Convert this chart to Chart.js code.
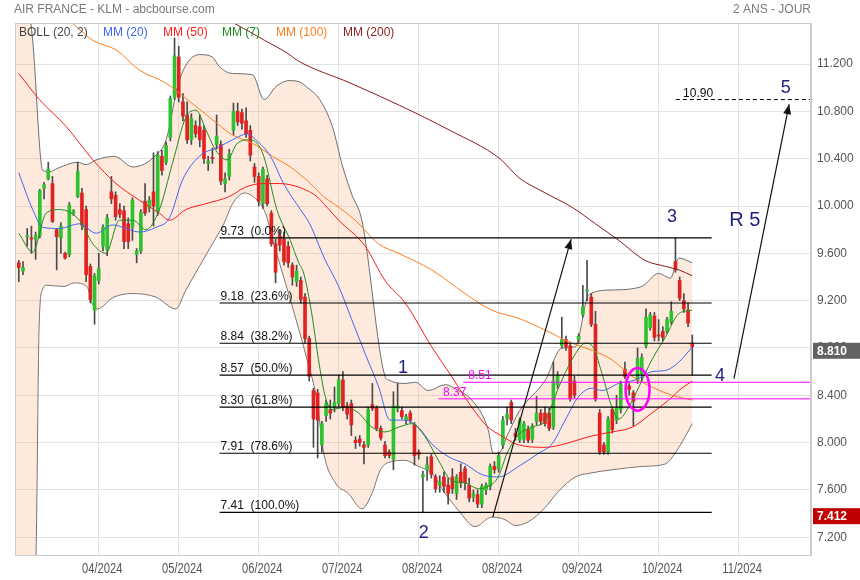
<!DOCTYPE html>
<html><head><meta charset="utf-8">
<script src="https://cdn.jsdelivr.net/npm/chart.js@4.4.0/dist/chart.umd.min.js"></script>
<style>html,body{margin:0;padding:0;background:#fff;}canvas{display:block;}</style>
</head><body>
<canvas id="c" width="860" height="580"></canvas>
<script>
// ---------- DATA ----------
const opens  = [9.52,9.45,9.74,9.73,9.72,9.75,10.15,10.23,10.19,9.80,9.73,9.60,9.59,9.94,10.08,10.11,9.97,9.49,9.12,9.37,9.66,9.63,10.12,10.09,9.97,9.96,9.85,9.82,9.59,9.62,10.04,9.98,10.12,9.95,10.42,10.37,10.58,10.92,11.26,10.88,10.77,10.56,10.68,10.67,10.64,10.36,10.41,10.52,10.52,10.19,10.25,10.64,10.80,10.79,10.72,10.64,10.33,10.25,10.02,10.23,9.94,9.68,9.75,9.72,9.66,9.50,9.36,9.37,9.23,8.88,8.44,8.42,7.98,8.23,8.28,8.30,8.33,8.53,8.31,8.33,8.02,8.03,7.98,7.98,8.32,8.29,8.12,7.98,7.92,7.86,8.29,8.27,8.19,8.25,8.15,7.92,7.71,7.77,7.88,7.71,7.64,7.71,7.64,7.71,7.57,7.75,7.78,7.64,7.54,7.56,7.48,7.60,7.63,7.80,7.78,7.98,8.20,8.34,8.08,8.02,8.03,8.11,8.03,8.18,8.25,8.25,8.25,8.13,8.49,8.82,8.87,8.82,8.52,8.87,9.08,9.28,9.23,9.00,8.25,7.98,7.92,8.28,8.19,8.28,8.62,8.48,8.42,8.53,8.58,8.82,8.97,9.07,8.91,8.94,8.94,9.02,9.53,9.37,9.20,9.12,8.84];
const highs  = [9.54,9.53,9.81,9.83,9.78,10.14,10.20,10.37,10.25,9.81,9.86,9.61,10.03,9.97,10.37,10.15,10.00,9.51,9.43,9.60,9.84,9.93,10.25,10.12,10.02,10.00,9.90,10.07,9.64,9.97,10.19,10.08,10.45,10.46,10.47,10.54,10.93,11.42,11.35,10.95,10.88,10.78,10.72,10.77,10.68,10.42,10.49,10.77,10.55,10.28,10.48,10.87,10.87,10.82,10.83,10.68,10.36,10.28,10.33,10.26,9.96,9.72,9.80,9.78,9.70,9.52,9.50,9.40,9.26,8.90,8.46,8.45,8.18,8.36,8.36,8.47,8.57,8.60,8.34,8.36,8.05,8.06,8.01,8.30,8.50,8.31,8.14,8.01,7.94,8.43,8.50,8.30,8.24,8.27,8.17,7.94,7.76,7.88,7.90,7.73,7.72,7.75,7.70,7.78,7.73,7.82,7.80,7.70,7.60,7.60,7.65,7.66,7.82,7.84,7.92,8.22,8.30,8.36,8.12,8.21,8.18,8.14,8.16,8.39,8.28,8.30,8.29,8.68,8.60,9.06,8.90,8.85,8.56,8.92,9.33,9.54,9.26,9.11,8.28,8.00,8.22,8.30,8.40,8.52,8.68,8.50,8.44,8.80,8.75,9.13,9.10,9.10,9.04,8.98,9.06,9.19,9.73,9.40,9.26,9.18,8.91];
const lows   = [9.36,9.42,9.66,9.60,9.55,9.73,10.06,10.22,9.86,9.46,9.60,9.55,9.57,9.92,10.07,9.80,9.36,9.18,9.00,9.34,9.62,9.58,10.02,9.88,9.90,9.64,9.64,9.71,9.52,9.60,9.92,9.95,9.83,9.92,10.26,10.35,10.55,10.90,10.88,10.72,10.53,10.52,10.58,10.50,10.36,10.30,10.36,10.48,10.18,10.12,10.22,10.60,10.68,10.65,10.58,10.38,10.20,10.00,9.98,10.00,9.66,9.35,9.62,9.50,9.48,9.33,9.32,9.18,8.84,8.52,7.96,7.87,7.92,8.18,8.20,8.26,8.30,8.27,8.20,8.06,7.95,7.97,7.82,7.96,8.27,8.10,8.02,7.87,7.87,7.77,8.26,8.20,8.16,8.17,7.81,7.86,7.412,7.68,7.70,7.58,7.58,7.58,7.48,7.57,7.52,7.62,7.60,7.50,7.50,7.45,7.45,7.56,7.60,7.74,7.75,7.95,8.15,8.16,8.02,8.00,8.00,8.00,8.00,8.15,8.15,8.14,8.10,8.11,8.46,8.80,8.78,8.35,8.38,8.85,9.06,9.20,8.98,8.35,7.90,7.90,7.90,8.08,8.16,8.25,8.54,8.40,8.14,8.50,8.52,8.80,8.95,8.86,8.86,8.86,8.92,9.00,9.44,9.20,9.10,8.98,8.57];
const closes = [9.48,9.48,9.75,9.72,9.75,10.13,10.18,10.31,9.87,9.74,9.83,9.56,10.01,9.96,10.29,9.84,9.42,9.21,9.41,9.47,9.82,9.90,10.06,9.91,9.93,9.70,9.70,10.05,9.62,9.95,9.94,10.05,10.00,10.43,10.30,10.51,10.91,11.27,10.92,10.76,10.56,10.74,10.61,10.56,10.40,10.38,10.40,10.59,10.21,10.23,10.44,10.80,10.71,10.70,10.61,10.43,10.25,10.04,10.31,10.02,9.68,9.44,9.67,9.53,9.52,9.40,9.45,9.21,8.88,8.56,8.20,8.19,8.16,8.33,8.25,8.34,8.53,8.30,8.24,8.15,8.00,8.00,7.96,8.28,8.29,8.12,8.04,7.89,7.89,8.31,8.31,8.22,8.22,8.19,7.89,7.90,7.73,7.81,7.73,7.61,7.67,7.63,7.57,7.61,7.71,7.66,7.66,7.53,7.57,7.48,7.63,7.64,7.80,7.77,7.89,8.19,8.24,8.19,8.05,8.19,8.16,8.02,8.14,8.25,8.18,8.16,8.12,8.52,8.57,8.87,8.81,8.37,8.40,8.90,9.15,9.29,9.00,8.37,7.92,7.92,8.20,8.11,8.30,8.49,8.56,8.45,8.35,8.71,8.72,9.06,9.08,8.89,8.90,8.89,9.04,9.11,9.46,9.22,9.13,9.01,8.81];

// indicator curves: [bar index, value]
const bollUpper = [[-0.9,12.6],[3.3,11.40],[5.7,10.30],[7.3,10.29],[9.3,10.32],[14.0,10.37],[16.0,10.35],[18.4,10.39],[22.7,10.42],[27.1,10.33],[32.6,10.43],[35.0,10.56],[38.1,11.06],[42.9,11.28],[46.0,11.26],[47.6,11.18],[50.8,11.12],[55.5,11.11],[58.3,10.90],[61.1,11.01],[64.2,11.06],[66.6,11.05],[68.6,11.00],[71.5,10.90],[74.6,10.66],[76.8,10.35],[79.2,10.09],[81.5,9.88],[87.0,8.56],[87.8,8.53],[91.8,8.50],[94.2,8.51],[97.3,8.44],[101.3,8.49],[104.4,8.44],[107.6,8.36],[111.5,8.11],[112.7,7.91],[113.9,7.91],[116.3,8.08],[118.8,8.26],[125.1,8.53],[129.0,8.80],[132.2,8.81],[135.4,9.25],[140.9,9.29],[148.0,9.32],[152.0,9.43],[154.8,9.39],[156.8,9.56],[160,9.52]];
const bollLower = [[-0.9,6.9],[4.0,7.0],[4.8,8.95],[5.6,9.29],[6.7,9.33],[10.7,9.32],[13.1,9.35],[16.2,9.32],[17.4,9.18],[18.6,9.13],[22.6,9.23],[27.1,9.26],[32.6,9.23],[37.3,9.13],[39.7,9.29],[42.9,9.49],[46.0,9.68],[48.7,9.85],[50.8,10.02],[53.6,10.11],[56.6,10.05],[58.6,9.94],[60.6,9.68],[64.5,9.21],[68.5,8.70],[70.8,8.36],[72.4,7.92],[75.2,7.66],[78.3,7.57],[81.5,7.44],[83.9,7.57],[85.9,7.77],[88.6,7.84],[91.8,7.85],[94.9,7.80],[98.1,7.74],[101.3,7.57],[104.4,7.43],[108.4,7.29],[112.3,7.37],[115.5,7.35],[117.9,7.30],[121,7.33],[125,7.45],[128,7.58],[132.2,7.71],[135.4,7.74],[140.9,7.77],[148.8,7.80],[153.6,7.82],[156.8,7.96],[160,8.16]];
const mm20 = [[0,10.28],[3.3,9.97],[5.7,9.82],[9.7,9.81],[14.4,9.85],[18.4,9.77],[22.3,9.84],[25.5,9.81],[28.6,9.78],[32.6,9.82],[35.8,9.90],[38.9,10.22],[42.9,10.42],[47.6,10.50],[50.8,10.56],[54.3,10.61],[56.3,10.56],[59.8,10.42],[62.9,10.19],[66.9,9.97],[69.1,9.85],[72.7,9.55],[76.0,9.32],[79.1,9.04],[82.3,8.75],[85.5,8.47],[88.2,8.19],[91.8,8.19],[94.9,8.13],[98.1,7.99],[102.1,7.88],[106.0,7.82],[110.0,7.73],[113.9,7.71],[118.8,7.80],[123.5,7.91],[126.7,7.99],[129.8,8.19],[133.0,8.39],[136.2,8.46],[138.5,8.44],[142.5,8.50],[146.5,8.53],[150.4,8.60],[153.6,8.61],[156.8,8.68],[160,8.81]];
const mm50 = [[0,11.12],[4.9,10.90],[11.3,10.67],[17.6,10.39],[23.1,10.19],[28.6,10.05],[33.4,9.94],[35.8,9.88],[39.7,9.97],[44.5,10.02],[50.0,10.08],[53.9,10.16],[57.9,10.19],[61.8,10.19],[64.5,10.18],[68.5,10.13],[70.8,10.08],[73.2,9.99],[76.0,9.88],[82.3,9.66],[87.0,9.37],[91.8,9.18],[98.1,8.81],[102.8,8.56],[107.6,8.30],[111.2,8.14],[115,8.05],[118.8,7.98],[125.1,7.96],[129.8,7.99],[135.4,8.05],[140.9,8.09],[145.7,8.13],[150.4,8.25],[154.4,8.36],[157.5,8.46],[160,8.52]];
const mm7 = [[0,9.77],[3.3,9.61],[6.5,9.94],[9.7,9.97],[14.4,9.88],[17.6,9.68],[20.7,9.60],[23.9,9.88],[27.1,9.88],[30.2,9.80],[33.4,9.97],[36.5,10.36],[39.7,10.75],[42.1,10.81],[44.5,10.64],[46.8,10.47],[49.5,10.39],[51.9,10.53],[55.0,10.56],[56.6,10.53],[58.2,10.42],[61.3,9.97],[64.5,9.71],[66.5,9.52],[67.7,9.43],[69.6,9.09],[71.2,8.70],[72.8,8.39],[74.4,8.28],[77.6,8.30],[80.7,8.25],[83.9,8.13],[87.0,8.09],[90.2,8.13],[93.4,8.16],[96.5,8.05],[99.7,7.85],[102.8,7.68],[106.0,7.66],[109.2,7.61],[111.5,7.63],[113.9,7.71],[116.0,7.91],[118.8,8.07],[121.9,8.13],[125.1,8.19],[128.3,8.47],[131.4,8.70],[134.6,8.84],[136.2,8.82],[138.5,8.59],[140.9,8.30],[142.5,8.20],[144.9,8.30],[147.3,8.47],[150.4,8.70],[153.6,8.89],[156.8,9.09],[160,9.12]];
const mm100 = [[0,11.90],[12.6,11.55],[17.6,11.40],[23.1,11.32],[28.6,11.15],[34.9,11.04],[39.7,10.91],[46.0,10.73],[50.8,10.60],[55.5,10.53],[60.3,10.42],[64.5,10.33],[69.3,10.19],[72.4,10.08],[74.8,10.02],[79.9,9.88],[85.5,9.68],[90.2,9.60],[98.1,9.46],[106.0,9.26],[112.3,9.12],[118.8,9.05],[125.1,8.95],[131.4,8.84],[136.2,8.78],[140.9,8.70],[145.7,8.56],[150.4,8.47],[155.2,8.40],[160,8.36]];
const mm200 = [[0,12.40],[50.9,11.55],[58.4,11.40],[63.9,11.29],[66.2,11.23],[78.7,11.04],[90.5,10.85],[102.4,10.64],[114.3,10.40],[118.8,10.24],[125.1,10.11],[131.4,9.99],[137.0,9.85],[142.5,9.71],[148.8,9.54],[153.6,9.49],[156.8,9.46],[160,9.41]];

// axes
const tickIdx = [19,38,57,76,95,114,133,152,171];
const dateLabels = ['04/2024','05/2024','06/2024','07/2024','08/2024','08/2024','09/2024','10/2024','11/2024'];
const yTicks = [7.2,7.6,8.0,8.4,8.8,9.2,9.6,10.0,10.4,10.8,11.2];
const xMin = -0.9, xMax = 188.2, yMin = 7.05, yMax = 11.547;

// annotations
const fibLevels = [9.73,9.18,8.84,8.57,8.30,7.91,7.41];
const fibPct = ['0.0%','23.6%','38.2%','50.0%','61.8%','78.6%','100.0%'];
const fibSpan = [47.7,164.6];
const magLevels = [8.51,8.37];
const magStart = [105.6,99.7];
const magLabelX = [106.8,100.8];
const targetLevel = 10.90;
const targetSpan = [156.1,188.2];
const targetLabelX = 157.8;
const waveLabels = ['1','2','3','4','5','R 5'];
const waveX = [91.3,96.2,155.2,166.6,182.2,172.5];
const waveY = [8.63,7.236,9.91,8.56,11.0,9.88];
const waveSize = [18,18,18,18,18,20];
const arrowLines = [[112.6,7.37,131.2,9.72],[169.9,8.54,183.0,10.86]];
const circleMark = [147.0,8.45,2.85,0.18];
const lastClose = 8.81, periodLow = 7.412;

// ---------- BUILD ----------
const FONT = 'Liberation Sans, Arial, sans-serif';
const idx = opens.map((_, i) => i);
const pts = a => a.map(p => ({x: p[0], y: p[1]}));
const lineDs = (data, color, order, extra) => Object.assign({
  type: 'line', data: pts(data), borderColor: color, borderWidth: 1, pointRadius: 0,
  cubicInterpolationMode: 'monotone', fill: false, order: order
}, extra || {});

const datasets = [
  lineDs(bollUpper, '#6e6e6e', 40, {fill: '+1', backgroundColor: 'rgba(247,170,120,0.25)'}),
  lineDs(bollLower, '#6e6e6e', 40),
  {type: 'bar', data: idx.map(i => ({x: i, y: [lows[i], highs[i]]})), backgroundColor: '#4a4a4a',
   barThickness: 1, grouped: false, order: 31},
  {type: 'bar', data: idx.map(i => ({x: i, y: [opens[i], closes[i]]})),
   backgroundColor: idx.map(i => closes[i] >= opens[i] ? '#2ec22e' : '#e02222'),
   barThickness: 3, minBarLength: 1, grouped: false, order: 30},
  lineDs(mm200, '#8b1c1c', 14),
  lineDs(mm100, '#ff7f1e', 13),
  lineDs(mm50, '#ff1a1a', 12),
  lineDs(mm20, '#4466ee', 11),
  lineDs(mm7, '#1f8c1f', 10),
];
fibLevels.forEach(l => datasets.push(lineDs([[fibSpan[0], l], [fibSpan[1], l]], '#000', 5, {borderWidth: 1.2})));
magLevels.forEach((l, k) => datasets.push(lineDs([[magStart[k], l], [xMax, l]], '#ff00ff', 5)));
datasets.push(lineDs([[targetSpan[0], targetLevel], [targetSpan[1], targetLevel]], '#000', 5, {borderDash: [4, 3]}));

const decor = {
  id: 'decor',
  beforeDraw(chart) {
    const c = chart.ctx; c.save(); c.fillStyle = '#fff'; c.fillRect(0, 0, chart.width, chart.height); c.restore();
  },
  afterDatasetsDraw(chart) {
    const c = chart.ctx, X = v => chart.scales.x.getPixelForValue(v), Y = v => chart.scales.y.getPixelForValue(v);
    const a = chart.chartArea;
    c.save();
    c.beginPath(); c.rect(a.left, a.top, a.right - a.left, a.bottom - a.top); c.clip();
    c.fillStyle = '#111'; c.font = '12px ' + FONT; c.textBaseline = 'alphabetic'; c.textAlign = 'left';
    fibLevels.forEach((l, k) => c.fillText(l.toFixed(2) + '  (' + fibPct[k] + ')', X(fibSpan[0]) + 1, Y(l) - 3));
    c.fillStyle = '#ff00ff';
    magLevels.forEach((l, k) => c.fillText(l.toFixed(2), X(magLabelX[k]), Y(l) - 3));
    c.fillStyle = '#111';
    c.fillText(targetLevel.toFixed(2), X(targetLabelX), Y(targetLevel) - 3);
    c.strokeStyle = '#111'; c.fillStyle = '#111'; c.lineWidth = 1.2;
    arrowLines.forEach(r => {
      const x1 = X(r[0]), y1 = Y(r[1]), x2 = X(r[2]), y2 = Y(r[3]);
      c.beginPath(); c.moveTo(x1, y1); c.lineTo(x2, y2); c.stroke();
      const ang = Math.atan2(y2 - y1, x2 - x1), L = 10, W = 4;
      c.beginPath(); c.moveTo(x2, y2);
      c.lineTo(x2 - L * Math.cos(ang) + W * Math.sin(ang), y2 - L * Math.sin(ang) - W * Math.cos(ang));
      c.lineTo(x2 - L * Math.cos(ang) - W * Math.sin(ang), y2 - L * Math.sin(ang) + W * Math.cos(ang));
      c.closePath(); c.fill();
    });
    const cx = X(circleMark[0]), cy = Y(circleMark[1]);
    const rx = Math.abs(X(circleMark[0] + circleMark[2]) - cx), ry = Math.abs(Y(circleMark[1] + circleMark[3]) - cy);
    c.strokeStyle = '#ff00ff'; c.lineWidth = 2.5;
    c.beginPath(); c.ellipse(cx, cy, rx, ry, 0, 0, Math.PI * 2); c.stroke();
    c.fillStyle = '#1e1e82'; c.textAlign = 'center'; c.textBaseline = 'middle';
    waveLabels.forEach((t, k) => { c.font = waveSize[k] + 'px ' + FONT; c.fillText(t, X(waveX[k]), Y(waveY[k])); });
    c.restore();
  },
  afterDraw(chart) {
    const c = chart.ctx, a = chart.chartArea, Y = v => chart.scales.y.getPixelForValue(v);
    const X = v => chart.scales.x.getPixelForValue(v);
    c.save();
    c.strokeStyle = '#cccccc'; c.lineWidth = 1;
    c.strokeRect(a.left + 0.5, a.top + 0.5, a.right - a.left - 1, a.bottom - a.top);
    // date labels (condensed)
    c.fillStyle = '#555'; c.font = '14px ' + FONT; c.textAlign = 'center'; c.textBaseline = 'middle';
    tickIdx.forEach((v, k) => {
      c.save(); c.translate(X(v) + 3.5, a.bottom + 14); c.scale(0.8, 1);
      c.fillText(dateLabels[k], 0, 0); c.restore();
    });
    c.font = '12px ' + FONT; c.fillStyle = '#7a7a7a'; c.textBaseline = 'alphabetic';
    c.textAlign = 'left'; c.fillText('AIR FRANCE - KLM - abcbourse.com', 14, 13);
    c.textAlign = 'right'; c.fillText('2 ANS - JOUR', a.right, 13);
    const leg = [['BOLL (20, 2)', '#444'], ['MM (20)', '#3d66f0'], ['MM (50)', '#ff2020'], ['MM (7)', '#1f8c1f'], ['MM (100)', '#ff7f1e'], ['MM (200)', '#8b1c1c']];
    const legX = [19, 103, 163, 222, 276, 343];
    c.textAlign = 'left';
    leg.forEach((l, k) => { c.fillStyle = l[1]; c.fillText(l[0], legX[k], 36); });
    const box = (v, col) => {
      const y = Y(v) - 4;
      c.fillStyle = col; c.fillRect(a.right + 2, y, chart.width - a.right - 2, 16);
      c.fillStyle = '#fff'; c.font = 'bold 12px ' + FONT; c.textBaseline = 'middle'; c.textAlign = 'left';
      c.fillText(v.toFixed(3), a.right + 6, y + 8.5);
    };
    box(lastClose, '#626262');
    box(periodLow, '#c00000');
    c.restore();
  }
};

new Chart(document.getElementById('c'), {
  type: 'line',
  data: {datasets},
  options: {
    responsive: false, animation: false, devicePixelRatio: 1,
    layout: {padding: {left: 15, top: 23, right: 0, bottom: 0}},
    plugins: {legend: {display: false}, tooltip: {enabled: false}},
    scales: {
      x: {
        type: 'linear', min: xMin, max: xMax, offset: false,
        grid: {color: '#e2e2e2', drawTicks: false, offset: false},
        border: {display: true, color: '#cccccc'},
        afterBuildTicks: s => { s.ticks = tickIdx.map(v => ({value: v})); },
        afterFit: s => { s.height = 25; },
        ticks: {display: false}
      },
      y: {
        position: 'right', min: yMin, max: yMax,
        grid: {color: '#e2e2e2', drawTicks: false},
        border: {display: true, color: '#cccccc'},
        afterBuildTicks: s => { s.ticks = yTicks.map(v => ({value: v})); },
        afterFit: s => { s.width = 49; },
        ticks: {padding: 6, color: '#555', font: {family: FONT, size: 12}, callback: v => Number(v).toFixed(3)}
      }
    }
  },
  plugins: [decor]
});
</script>
</body></html>
